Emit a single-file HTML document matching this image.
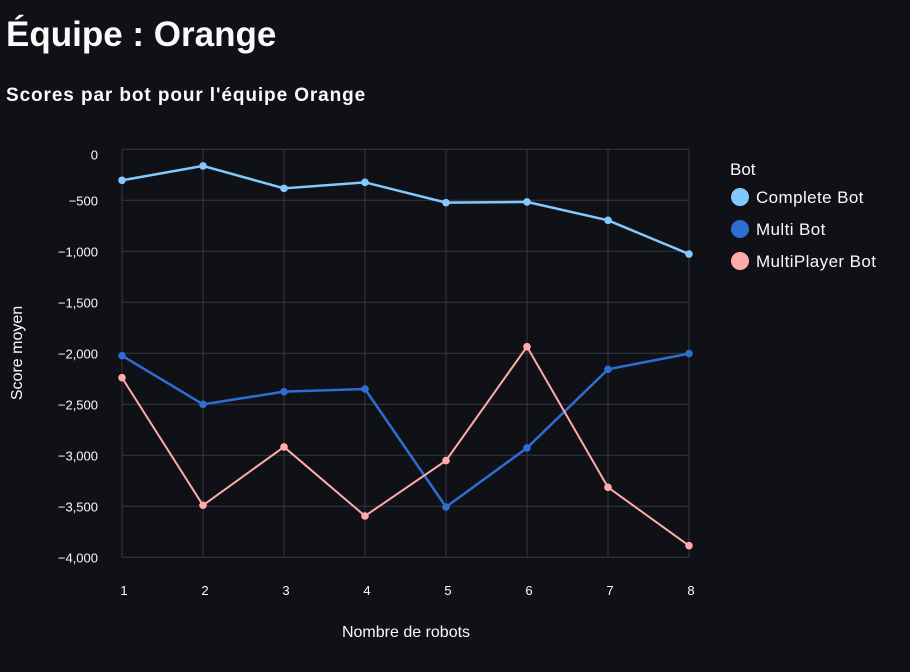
<!DOCTYPE html>
<html><head><meta charset="utf-8"><style>
body{margin:0;background:#0f1117;width:910px;height:672px;overflow:hidden;font-family:"Liberation Sans",sans-serif;color:#fafafa}
h1{position:absolute;left:6px;top:15px;margin:0;font-size:35px;font-weight:700}
h2{position:absolute;left:6px;top:85px;margin:0;font-size:19px;font-weight:700;letter-spacing:0.9px}
svg{position:absolute;left:0;top:0}
</style></head><body>
<h1>Équipe : Orange</h1>
<h2>Scores par bot pour l'équipe Orange</h2>
<svg id="chart" width="910" height="672"></svg>
<script>
const categories=[1,2,3,4,5,6,7,8];
const completeBot=[-304,-163,-383,-324,-523,-516,-696,-1027];
const multiBot=[-2023,-2500,-2376,-2350,-3507,-2928,-2157,-2003];
const multiPlayerBot=[-2239,-3490,-2918,-3595,-3052,-1935,-3314,-3886];
const seriesNames=["Complete Bot","Multi Bot","MultiPlayer Bot"];
const yTicks=[0,-500,-1000,-1500,-2000,-2500,-3000,-3500,-4000];
const yTickLabels=["0","−500","−1,000","−1,500","−2,000","−2,500","−3,000","−3,500","−4,000"];

const NS="http://www.w3.org/2000/svg";
const svg=document.getElementById('chart');
const X0=122,X1=689,Y0=149.3,Y1=557.3;
const xs=c=>X0+(c-1)/(7)*(X1-X0);
const ys=v=>Y0+(v-0)/(-4000)*(Y1-Y0);
function mk(t,a){const e=document.createElementNS(NS,t);for(const k in a)e.setAttribute(k,a[k]);svg.appendChild(e);return e;}
yTicks.forEach((v,i)=>{
  const l=mk('line',{x1:X0,x2:X1,y1:ys(v),y2:ys(v),stroke:'#363842','stroke-width':1});
  
  
  const t=mk('text',{x:X0-24,y:ys(v)+(i==0?10:5),'text-anchor':'end','font-size':13,fill:'#fafafa'});
  t.textContent=yTickLabels[i];
  
  
});
categories.forEach(c=>{
  const l=mk('line',{x1:xs(c),x2:xs(c),y1:Y0,y2:Y1,stroke:'#363842','stroke-width':1});
  
  
  const t=mk('text',{x:xs(c)+2,y:595,'text-anchor':'middle','font-size':13,fill:'#fafafa'});
  t.textContent=c;
  
  
});
const xt=mk('text',{x:406,y:637,'text-anchor':'middle','font-size':16,fill:'#fafafa'});
xt.textContent='Nombre de robots';


const yt=mk('text',{x:22,y:353,'text-anchor':'middle','font-size':16,fill:'#fafafa',transform:'rotate(-90 22 353)'});
yt.textContent='Score moyen';


const colors=['#83c9ff','#2e6dd1','#ffabab'];
const widths=[2.5,2.5,2];
[completeBot,multiBot,multiPlayerBot].forEach((vals,s)=>{
  const p=mk('polyline',{points:vals.map((v,i)=>xs(categories[i])+','+ys(v)).join(' '),fill:'none',stroke:colors[s],'stroke-width':widths[s]});
  
  
  vals.forEach((v,i)=>{
    const c=mk('circle',{cx:xs(categories[i]),cy:ys(v),r:3.8,fill:colors[s]});
    
    
  });
});
const lt=mk('text',{x:730,y:175,'font-size':17,fill:'#fafafa'});
lt.textContent='Bot';


seriesNames.forEach((n,i)=>{
  const y=197+i*32;
  const c=mk('circle',{cx:740,cy:y,r:9,fill:colors[i]});
  
  
  const t=mk('text',{x:756,y:y+6,'font-size':17,fill:'#fafafa','letter-spacing':'0.4'});
  t.textContent=n;
  
  
});
</script>
</body></html>
